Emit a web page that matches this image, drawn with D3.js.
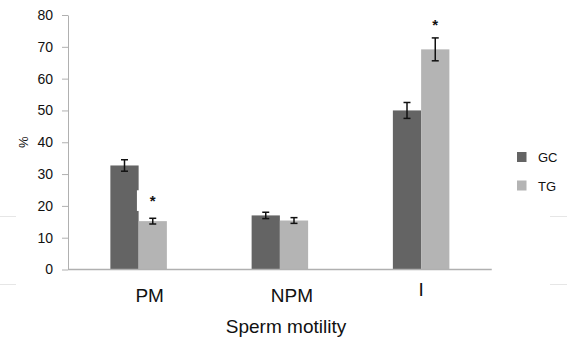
<!DOCTYPE html>
<html>
<head>
<meta charset="utf-8">
<script src="https://cdn.jsdelivr.net/npm/d3@7"></script>
<style>
  body { margin: 0; background: #fff; }
  text { font-family: "Liberation Sans", Arial, sans-serif; fill: #111; }
</style>
</head>
<body>
<div id="chart"></div>
<script>
// Data
var categories = ["PM", "NPM", "I"];
var series = ["GC", "TG"];
var gcValues = [32.7, 17.0, 50.0];
var gcErrors = [1.8, 1.0, 2.5];
var tgValues = [15.2, 15.4, 69.2];
var tgErrors = [0.9, 0.9, 3.6];
var significant = [false, false, false, true, false, true]; // GC/TG per category
var yTicks = [0, 10, 20, 30, 40, 50, 60, 70, 80];

var colors = {GC: "#646464", TG: "#b4b4b4"};

var width = 567, height = 348;
var margin = {top: 15, right: 75, bottom: 78, left: 68};
var innerW = 491.75 - margin.left, innerH = 269.5 - margin.top;

var svg = d3.select("#chart").append("svg")
    .attr("width", width)
    .attr("height", height);

// faint stray lines seen at the picture edges
[[0, 16], [550, 567]].forEach(function(seg) {
  [216.5, 284.5].forEach(function(yy) {
    svg.append("line")
      .attr("x1", seg[0]).attr("x2", seg[1])
      .attr("y1", yy).attr("y2", yy)
      .attr("stroke", "#e6e6e6");
  });
});

var g = svg.append("g")
    .attr("transform", "translate(" + margin.left + "," + margin.top + ")");

var x = d3.scaleBand()
    .domain(categories)
    .range([0, innerW])
    .paddingInner(0.6)
    .paddingOuter(0.3);

var xSub = d3.scaleBand()
    .domain(series)
    .range([0, x.bandwidth()]);

var y = d3.scaleLinear()
    .domain([0, 80])
    .range([innerH, 0]);

// Y axis
var yAxis = g.append("g")
    .call(d3.axisLeft(y).tickValues(yTicks).tickSize(6).tickPadding(9).tickSizeOuter(0));
yAxis.select(".domain").attr("stroke", "#b0b0b0");
yAxis.selectAll(".tick line").attr("stroke", "#b0b0b0");
yAxis.selectAll(".tick text")
    .style("font-family", "Liberation Sans, Arial, sans-serif")
    .style("font-size", "14px")
    .attr("fill", "#222");

// Y label
g.append("text")
    .attr("transform", "rotate(-90)")
    .attr("x", -y(40))
    .attr("y", 23 - margin.left + 5)
    .attr("text-anchor", "middle")
    .style("font-size", "13px")
    .text("%");

// Bars
var rows = [];
categories.forEach(function(c, i) {
  rows.push({cat: c, s: "GC", v: gcValues[i], e: gcErrors[i], sig: significant[i * 2]});
  rows.push({cat: c, s: "TG", v: tgValues[i], e: tgErrors[i], sig: significant[i * 2 + 1]});
});

g.selectAll("rect.bar")
  .data(rows)
  .enter().append("rect")
    .attr("class", "bar")
    .attr("x", d => x(d.cat) + xSub(d.s))
    .attr("y", d => y(d.v))
    .attr("width", xSub.bandwidth())
    .attr("height", d => innerH - y(d.v))
    .attr("fill", d => colors[d.s]);

// white label box next to the PM TG bar (it clips the GC bar a little)
g.append("rect")
    .attr("x", x("PM") + xSub("TG") - 1.7)
    .attr("y", y(24.9))
    .attr("width", 24)
    .attr("height", y(18.4) - y(24.9))
    .attr("fill", "#fff");
g.append("text")
    .attr("x", x("PM") + xSub("TG") + xSub.bandwidth() / 2)
    .attr("y", y(20.1))
    .attr("text-anchor", "middle")
    .style("font-size", "15px")
    .style("font-weight", "bold")
    .text("*");

// Error bars
var err = g.selectAll("g.err")
  .data(rows)
  .enter().append("g")
    .attr("class", "err")
    .attr("transform", d => "translate(" + (x(d.cat) + xSub(d.s) + xSub.bandwidth() / 2) + ",0)");
err.append("line")
    .attr("y1", d => y(d.v - d.e)).attr("y2", d => y(d.v + d.e))
    .attr("stroke", "#111").attr("stroke-width", 1.5);
err.append("line")
    .attr("x1", -3.5).attr("x2", 3.5)
    .attr("y1", d => y(d.v - d.e)).attr("y2", d => y(d.v - d.e))
    .attr("stroke", "#111").attr("stroke-width", 1.5);
err.append("line")
    .attr("x1", -3.5).attr("x2", 3.5)
    .attr("y1", d => y(d.v + d.e)).attr("y2", d => y(d.v + d.e))
    .attr("stroke", "#111").attr("stroke-width", 1.5);

// star above the I TG bar
rows.filter(d => d.sig && d.cat === "I").forEach(function(d) {
  g.append("text")
    .attr("x", x(d.cat) + xSub(d.s) + xSub.bandwidth() / 2)
    .attr("y", y(d.v + d.e) - 8)
    .attr("text-anchor", "middle")
    .style("font-size", "15px")
    .style("font-weight", "bold")
    .text("*");
});

// X axis baseline
g.append("line")
    .attr("x1", 0).attr("x2", innerW)
    .attr("y1", innerH).attr("y2", innerH)
    .attr("stroke", "#b0b0b0").attr("stroke-width", 1.5);

// Category labels (placed as in the picture, slightly off the band centres)
var labelShift = [11, 12, 0];
g.selectAll("text.cat")
  .data(categories)
  .enter().append("text")
    .attr("class", "cat")
    .attr("x", (d, i) => x(d) + x.bandwidth() / 2 + labelShift[i])
    .attr("y", (d, i) => i === 2 ? innerH + 26 : innerH + 32)
    .attr("text-anchor", "middle")
    .style("font-size", "19px")
    .text(d => d);

// X title
g.append("text")
    .attr("x", 286 - margin.left)
    .attr("y", 333 - margin.top)
    .attr("text-anchor", "middle")
    .style("font-size", "19px")
    .text("Sperm motility");

// Legend
var legend = svg.selectAll("g.legend")
  .data(series)
  .enter().append("g")
    .attr("class", "legend")
    .attr("transform", (d, i) => "translate(517," + (152 + i * 28.5) + ")");
legend.append("rect")
    .attr("width", 9.5).attr("height", 10)
    .attr("fill", d => colors[d]);
legend.append("text")
    .attr("x", 21)
    .attr("y", 10)
    .style("font-size", "13px")
    .text(d => d);
</script>
</body>
</html>
